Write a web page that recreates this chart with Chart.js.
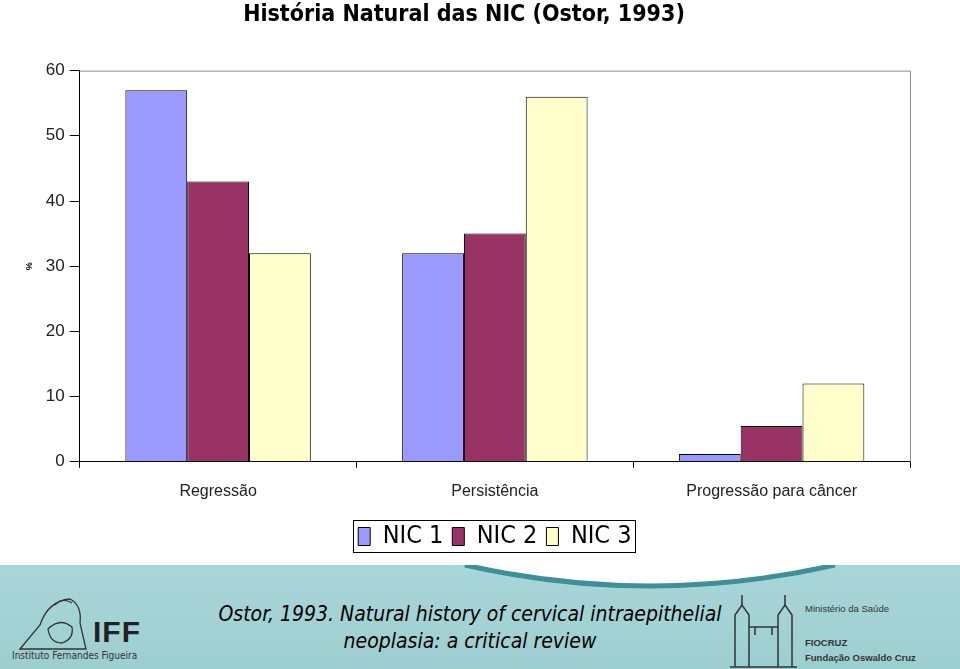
<!DOCTYPE html>
<html lang="pt">
<head>
<meta charset="utf-8">
<script src="https://cdn.jsdelivr.net/npm/chart.js@4.4.1/dist/chart.umd.min.js"></script>
<style>
  html, body { margin: 0; padding: 0; background: #fff; }
  #wrap { position: relative; width: 960px; height: 669px; overflow: hidden; }
  #chartBox { position: absolute; left: 0; top: 0; width: 960px; height: 565px; }
  #band {
    position: absolute; left: 0; top: 565px; width: 960px; height: 104px;
    background: linear-gradient(180deg, #a9d6d8 0%, #a3d2d4 60%, #9ccdcf 100%);
  }
  #band svg { position: absolute; left: 0; top: 0; }
  .cite {
    position: absolute; left: 190px; top: 36px; width: 560px; text-align: center;
    font-family: 'Liberation Sans Narrow', 'DejaVu Sans Condensed', 'Liberation Sans', sans-serif;
    font-style: italic; font-size: 21px; line-height: 27px; color: #000;
  }
  .iff { position: absolute; left: 93px; top: 50px; font: bold 30px 'Liberation Sans', sans-serif; color: #222; letter-spacing: 1px; }
  .iffsub { position: absolute; left: 12px; top: 85px; font: 10px 'DejaVu Sans Condensed', 'Liberation Sans', sans-serif; color: #333; }
  .fio { position: absolute; left: 805px; font-family: 'Liberation Sans', sans-serif; font-size: 9.5px; color: #333; }
</style>
</head>
<body>
<div id="wrap">
  <div id="chartBox"><canvas id="chartNIC"></canvas></div>
  <div id="band">
    <svg width="960" height="104">
      <path d="M465,0 Q650,42 835,0 Z" fill="#ffffff"/>
      <path d="M465,0 Q650,42 835,0" fill="none" stroke="#3f8f98" stroke-width="5"/>
      <!-- IFF mãe e filho (contorno simples) -->
      <g fill="none" stroke="#333" stroke-width="1.3">
        <path d="M20,84 L40,60 Q48,36 70,34 Q82,40 80,58 L86,84 Z"/>
        <path d="M48,64 Q60,52 72,62 Q74,74 62,78 Q50,78 48,64 Z"/>
        <path d="M55,40 Q62,32 72,38"/>
      </g>
      <!-- FIOCRUZ castelo -->
      <g fill="none" stroke="#333" stroke-width="1.5">
        <path d="M735,102 L735,50 L742,40 L749,50 L749,102"/>
        <path d="M778,102 L778,50 L785,40 L792,50 L792,102"/>
        <path d="M749,62 L778,62 M755,62 L755,70 M772,62 L772,70"/>
        <path d="M742,40 L742,30 M785,40 L785,30"/>
        <path d="M730,102 L797,102"/>
      </g>
    </svg>
    <div class="cite">Ostor, 1993. Natural history of cervical intraepithelial<br>neoplasia: a critical review</div>
    <div class="iff">IFF</div>
    <div class="iffsub">Instituto Fernandes Figueira</div>
    <div class="fio" style="top:38px">Ministério da Saúde</div>
    <div class="fio" style="top:72px;font-weight:bold">FIOCRUZ</div>
    <div class="fio" style="top:87px;font-weight:bold">Fundação Oswaldo Cruz</div>
  </div>
</div>
<script>
// ===== データ =====
const CATEGORIES = ['Regressão', 'Persistência', 'Progressão para câncer'];
const NIC1 = [57, 32, 1.2];
const NIC2 = [43, 35, 5.5];
const NIC3 = [32, 56, 12];
const Y_TICKS = { min: 0, max: 60, step: 10 };

const COLORS = { nic1: '#9999FF', nic2: '#993366', nic3: '#FFFFCC' };
const NARROW = "'Liberation Sans Narrow','DejaVu Sans Condensed',sans-serif";
const LEGEND_PAD = 9;

// plot frame (top + right in grey), legend centred under the plot, with a box
const framePlugin = {
  id: 'frame',
  afterLayout(chart) {
    const lg = chart.legend, a = chart.chartArea;
    if (!lg) return;
    const shift = (a.left + a.right) / 2 - (lg.left + lg.right) / 2;
    lg.left += shift;
    lg.right += shift;
  },
  afterDraw(chart) {
    const { ctx, chartArea: a, legend } = chart;
    ctx.save();
    ctx.strokeStyle = '#8a8a8a';
    ctx.lineWidth = 1;
    ctx.beginPath();
    ctx.moveTo(a.left, a.top + 0.5);
    ctx.lineTo(a.right + 0.5, a.top + 0.5);
    ctx.lineTo(a.right + 0.5, a.bottom);
    ctx.stroke();
    if (legend && legend.lineWidths) {
      const W = legend.lineWidths[0];
      const x0 = (legend.left + LEGEND_PAD + legend.right - W) / 2;
      const l = x0 - 5;
      const r = x0 + W - LEGEND_PAD + 4;
      const t = legend.top + LEGEND_PAD - 4;
      const b = legend.top + LEGEND_PAD + 25 + 3;
      ctx.strokeStyle = '#000';
      ctx.strokeRect(Math.round(l) + 0.5, Math.round(t) + 0.5, Math.round(r - l), Math.round(b - t));
    }
    ctx.restore();
  }
};

function initChart() {
  const ctx = document.getElementById('chartNIC');
  const ds = (label, data, color) => ({
    label, data,
    backgroundColor: color,
    borderColor: '#000',
    borderWidth: 1,
    categoryPercentage: 0.67,
    barPercentage: 1.0,
  });

  new Chart(ctx, {
    type: 'bar',
    data: {
      labels: CATEGORIES,
      datasets: [
        ds('NIC 1', NIC1, COLORS.nic1),
        ds('NIC 2', NIC2, COLORS.nic2),
        ds('NIC 3', NIC3, COLORS.nic3),
      ]
    },
    plugins: [framePlugin],
    options: {
      responsive: true,
      maintainAspectRatio: false,
      animation: false,
      layout: { padding: { left: 18, right: 50, top: 0, bottom: 6 } },
      plugins: {
        title: {
          display: true,
          text: 'História Natural das NIC (Ostor, 1993)',
          color: '#000',
          font: { family: NARROW, size: 23, weight: 'bold' },
          padding: { top: 1, bottom: 42 }
        },
        legend: {
          position: 'bottom',
          labels: {
            color: '#000',
            font: { family: NARROW, size: 25 },
            boxWidth: 12,
            boxHeight: 18,
            padding: LEGEND_PAD,
            useBorderRadius: false,
          }
        },
        tooltip: { enabled: false }
      },
      scales: {
        x: {
          grid: { offset: true, drawOnChartArea: false, drawTicks: true, tickLength: 6, color: '#000' },
          border: { color: '#000', width: 1 },
          ticks: { color: '#222', font: { family: "'Liberation Sans',sans-serif", size: 16 }, padding: 14 }
        },
        y: {
          min: Y_TICKS.min, max: Y_TICKS.max,
          grid: { drawOnChartArea: false, drawTicks: true, tickLength: 10, color: '#000' },
          border: { color: '#000', width: 1 },
          ticks: { stepSize: Y_TICKS.step, color: '#222', font: { family: "'Liberation Sans',sans-serif", size: 17 }, padding: 5 },
          title: { display: true, text: '%', color: '#000', font: { family: "'Liberation Sans',sans-serif", size: 9, weight: 'bold' }, padding: 6 }
        }
      }
    }
  });
}

document.addEventListener('DOMContentLoaded', initChart);
</script>
</body>
</html>
